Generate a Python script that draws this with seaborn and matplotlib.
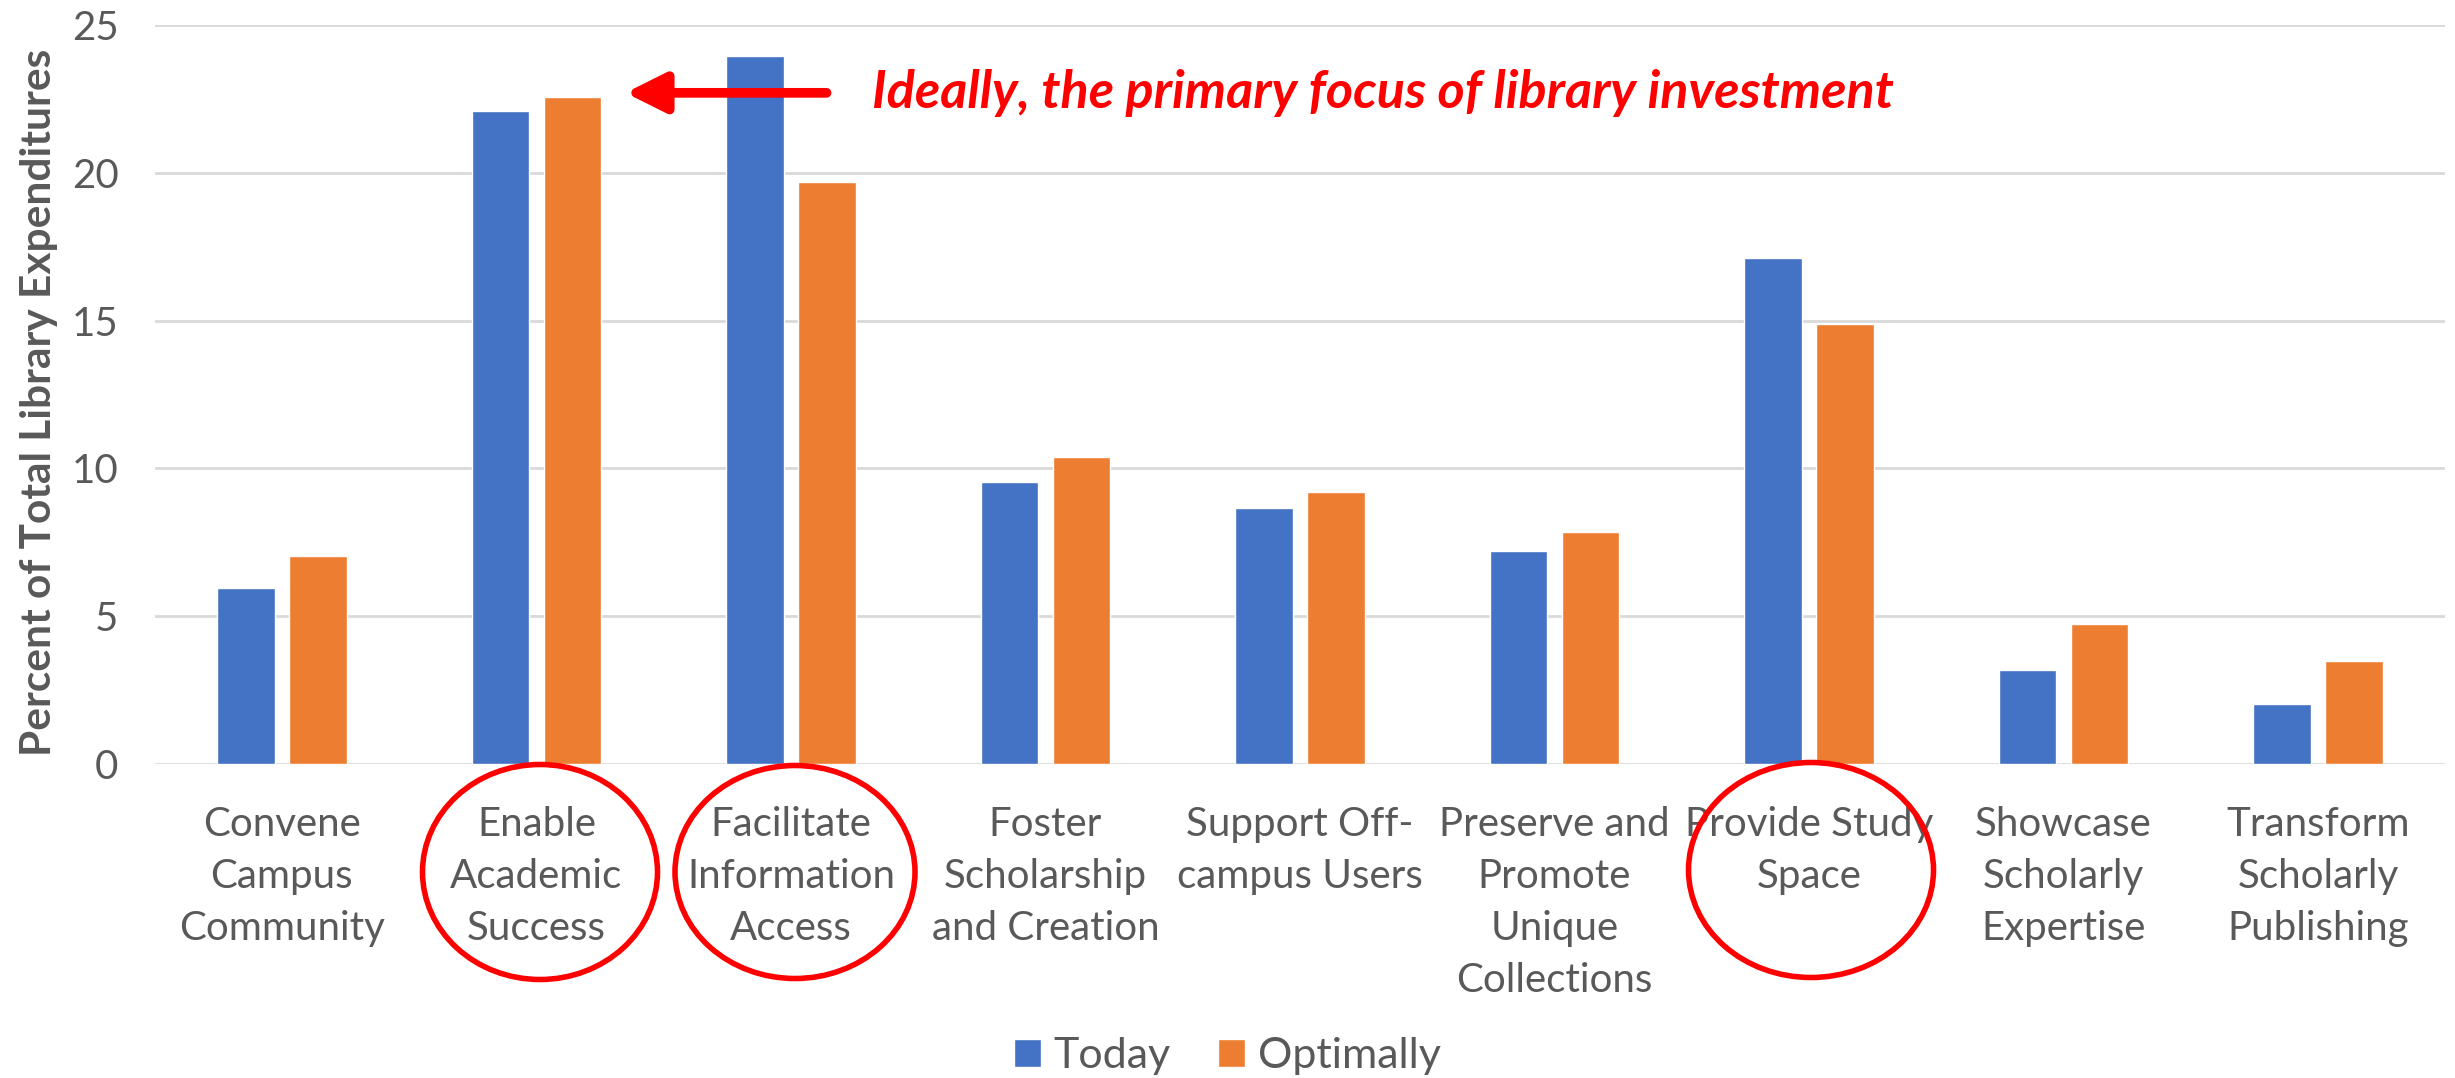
import pandas as pd
import seaborn as sns
import matplotlib.pyplot as plt
from matplotlib.patches import Ellipse

# values (percent of total library expenditures)
categories = ['Convene\nCampus\nCommunity', 'Enable\nAcademic\nSuccess', 'Facilitate\nInformation\nAccess',
              'Foster\nScholarship\nand Creation', 'Support Off-\ncampus Users',
              'Preserve and\nPromote\nUnique\nCollections', 'Provide Study\nSpace',
              'Showcase\nScholarly\nExpertise', 'Transform\nScholarly\nPublishing']
today = [5.95, 22.1, 23.95, 9.55, 8.65, 7.2, 17.1, 3.2, 2.05]
optimally = [7.05, 22.55, 19.7, 10.4, 9.2, 7.85, 14.9, 4.75, 3.5]
series_names = ['Today', 'Optimally']
y_ticks = [0, 5, 10, 15, 20, 25]

note = 'Ideally, the primary focus of library investment'

BLUE = '#4472C4'
ORANGE = '#ED7D31'
GRAY = '#595959'

df = pd.DataFrame({
    'category': categories * 2,
    'percent': today + optimally,
    'series': [series_names[0]] * len(categories) + [series_names[1]] * len(categories),
})

sns.set_style('white')
plt.rcParams['font.family'] = ['Lato', 'DejaVu Sans']

fig = plt.figure(figsize=(24.55, 10.78), dpi=100)
ax = fig.add_axes([0.063, 0.291, 0.933, 0.686])

sns.barplot(data=df, x='category', y='percent', hue='series', palette=[BLUE, ORANGE],
            saturation=1, width=0.566, gap=0.2, ax=ax)

ax.set_ylim(0, 25)
ax.set_xlim(-0.5, len(categories) - 0.5)
ax.set_yticks(y_ticks)
ax.yaxis.grid(True, color='#D9D9D9', linewidth=2)
ax.set_axisbelow(True)
for s in ax.spines.values():
    s.set_visible(False)
ax.tick_params(axis='both', length=0, labelsize=29, labelcolor=GRAY)
ax.tick_params(axis='y', pad=26)
ax.tick_params(axis='x', pad=30)
for lab in ax.get_xticklabels():
    lab.set_linespacing(1.5)
ax.set_xlabel('')
ax.set_ylabel('Percent of Total Library Expenditures', fontsize=30.5, fontweight='bold', color=GRAY)
ax.yaxis.set_label_coords(-0.042, 0.49)

# legend at the bottom
handles, labels = ax.get_legend_handles_labels()
ax.get_legend().remove()
fig.legend(handles, labels, loc='lower center', bbox_to_anchor=(0.5, -0.033), ncol=2, frameon=False,
           fontsize=31, labelcolor=GRAY, handlelength=0.62, handleheight=0.62,
           handletextpad=0.3, columnspacing=1.1)

# red call-out
ax.annotate('', xy=(1.35, 22.7), xytext=(2.14, 22.7),
            arrowprops=dict(arrowstyle='-|>,head_length=1.2,head_width=0.6', color='red',
                            lw=7, mutation_scale=20, shrinkA=0, shrinkB=0))
ax.text(2.32, 22.7, note, color='red', fontsize=37.5, fontweight='bold', style='italic',
        ha='left', va='center')

# hand-drawn style circles round three labels (figure pixel centres)
W, H = 2455, 1078
for cx, cy, w, h in [(540, 872, 235, 215), (795, 872, 240, 213), (1811, 870, 245, 215)]:
    fig.patches.append(Ellipse((cx / W, 1 - cy / H), w / W, h / H, transform=fig.transFigure,
                               fill=False, edgecolor='red', linewidth=4))

fig.savefig('out.png', dpi=100)
